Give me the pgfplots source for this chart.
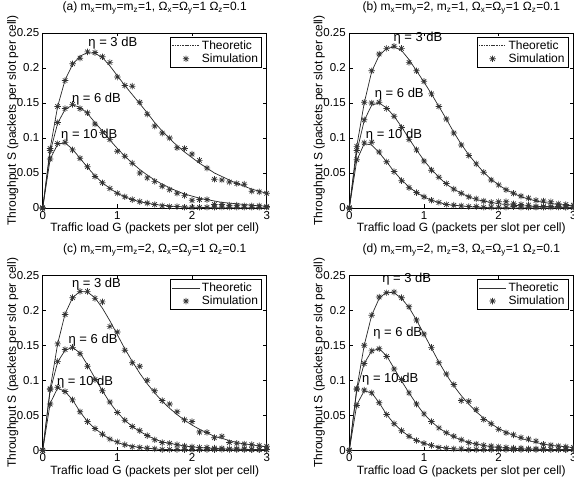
\documentclass[border=0pt]{standalone}
\usepackage{fontspec}
\setmainfont{Liberation Sans}
\usepackage{pgfplots}
\usepackage{pgfplotstable}
\usepgfplotslibrary{groupplots}
\pgfplotsset{compat=1.18}

% columns: G, theory/simulation for eta = 3, 6, 10 dB
\pgfplotstableread{
G   t3     s3     t6     s6     t10    s10
0.0 0      0      0      0      0      0
0.1 0.085  0.085  0.080  0.082  0.070  0.070
0.2 0.145  0.145  0.121  0.122  0.091  0.092
0.3 0.183  0.182  0.141  0.142  0.093  0.094
0.4 0.205  0.206  0.147  0.148  0.084  0.083
0.5 0.217  0.214  0.144  0.142  0.071  0.071
0.6 0.222  0.223  0.135  0.136  0.058  0.059
0.7 0.221  0.222  0.122  0.120  0.046  0.045
0.8 0.215  0.216  0.110  0.108  0.036  0.036
0.9 0.203  0.208  0.097  0.098  0.028  0.028
1.0 0.189  0.187  0.085  0.081  0.021  0.021
1.1 0.175  0.175  0.074  0.074  0.016  0.016
1.2 0.162  0.174  0.064  0.064  0.012  0.012
1.3 0.149  0.151  0.055  0.050  0.009  0.009
1.4 0.136  0.134  0.047  0.043  0.007  0.007
1.5 0.122  0.117  0.040  0.038  0.005  0.005
1.6 0.110  0.107  0.034  0.031  0.004  0.003
1.7 0.099  0.100  0.029  0.026  0.003  0.002
1.8 0.089  0.086  0.024  0.021  0.002  0.002
1.9 0.080  0.085  0.020  0.018  0.0015 0.001
2.0 0.072  0.077  0.017  0.011  0.001  0.001
2.1 0.064  0.068  0.014  0.012  0.001  0.001
2.2 0.057  0.057  0.012  0.012  0.0005 0.001
2.3 0.050  0.041  0.010  0.005  0      0.001
2.4 0.045  0.040  0.008  0.005  0      0.001
2.5 0.040  0.037  0.007  0.004  0      0.001
2.6 0.035  0.035  0.006  0.004  0      0.001
2.7 0.031  0.034  0.005  0.003  0      0.001
2.8 0.027  0.024  0.004  0.003  0      0.001
2.9 0.024  0.023  0.003  0.003  0      0.001
3.0 0.021  0.021  0.003  0.002  0      0.001
}\tabA

\pgfplotstableread{
G   t3     s3     t6     s6     t10    s10
0.0 0      0      0      0      0      0
0.1 0.088  0.088  0.080  0.082  0.068  0.069
0.2 0.150  0.151  0.125  0.126  0.092  0.093
0.3 0.195  0.196  0.147  0.150  0.090  0.094
0.4 0.218  0.220  0.150  0.151  0.079  0.080
0.5 0.228  0.228  0.143  0.142  0.066  0.066
0.6 0.230  0.231  0.131  0.131  0.052  0.052
0.7 0.225  0.228  0.116  0.115  0.040  0.039
0.8 0.212  0.208  0.099  0.098  0.030  0.029
0.9 0.196  0.196  0.083  0.083  0.022  0.022
1.0 0.180  0.181  0.068  0.067  0.016  0.016
1.1 0.163  0.163  0.055  0.054  0.011  0.011
1.2 0.145  0.145  0.044  0.044  0.008  0.008
1.3 0.127  0.127  0.034  0.035  0.005  0.005
1.4 0.108  0.107  0.027  0.027  0.004  0.004
1.5 0.091  0.090  0.021  0.021  0.003  0.003
1.6 0.076  0.075  0.016  0.016  0.002  0.002
1.7 0.063  0.063  0.012  0.013  0.001  0.002
1.8 0.051  0.051  0.010  0.010  0.001  0.001
1.9 0.041  0.040  0.008  0.008  0      0.001
2.0 0.033  0.033  0.006  0.009  0      0.001
2.1 0.026  0.026  0.005  0.009  0      0.001
2.2 0.021  0.021  0.004  0.006  0      0.002
2.3 0.016  0.017  0.003  0.005  0      0.001
2.4 0.013  0.014  0.003  0.004  0      0.001
2.5 0.010  0.011  0.002  0.002  0      0.001
2.6 0.008  0.010  0.002  0.002  0      0.001
2.7 0.0065 0.009  0.002  0.002  0      0.001
2.8 0.005  0.006  0.001  0.002  0      0.001
2.9 0.004  0.005  0.001  0.001  0      0.001
3.0 0.003  0.004  0.001  0.001  0      0.001
}\tabB

\pgfplotstableread{
G   t3     s3     t6     s6     t10    s10
0.0 0      0      0      0      0      0
0.1 0.088  0.088  0.085  0.087  0.067  0.066
0.2 0.152  0.152  0.126  0.127  0.089  0.090
0.3 0.195  0.194  0.143  0.144  0.084  0.084
0.4 0.218  0.218  0.147  0.147  0.072  0.072
0.5 0.227  0.227  0.139  0.138  0.055  0.055
0.6 0.226  0.227  0.122  0.120  0.041  0.041
0.7 0.218  0.217  0.103  0.101  0.031  0.031
0.8 0.203  0.212  0.085  0.085  0.023  0.023
0.9 0.185  0.177  0.068  0.069  0.016  0.016
1.0 0.165  0.169  0.054  0.054  0.011  0.012
1.1 0.145  0.143  0.043  0.043  0.008  0.008
1.2 0.127  0.125  0.034  0.034  0.006  0.005
1.3 0.110  0.120  0.027  0.028  0.004  0.004
1.4 0.095  0.100  0.021  0.021  0.003  0.003
1.5 0.082  0.085  0.016  0.015  0.002  0.002
1.6 0.070  0.071  0.012  0.011  0.001  0.001
1.7 0.060  0.066  0.010  0.010  0.001  0.001
1.8 0.051  0.055  0.008  0.008  0      0.001
1.9 0.043  0.0435 0.006  0.006  0      0.001
2.0 0.036  0.041  0.005  0.005  0      0.001
2.1 0.030  0.026  0.004  0.004  0      0.001
2.2 0.025  0.0255 0.003  0.004  0      0.001
2.3 0.020  0.018  0.003  0.003  0      0.001
2.4 0.017  0.020  0.002  0.003  0      0.001
2.5 0.014  0.011  0.002  0.002  0      0.001
2.6 0.011  0.010  0.002  0.002  0      0.001
2.7 0.009  0.009  0.001  0.002  0      0.001
2.8 0.008  0.008  0.001  0.001  0      0.001
2.9 0.006  0.0066 0.001  0.001  0      0.001
3.0 0.005  0.0057 0.001  0.001  0      0.001
}\tabC

\pgfplotstableread{
G   t3     s3     t6     s6     t10    s10
0.0 0      0      0      0      0      0
0.1 0.088  0.088  0.086  0.087  0.065  0.064
0.2 0.150  0.150  0.124  0.124  0.085  0.086
0.3 0.193  0.193  0.142  0.142  0.082  0.082
0.4 0.217  0.219  0.145  0.145  0.068  0.068
0.5 0.226  0.225  0.135  0.134  0.051  0.051
0.6 0.225  0.226  0.117  0.116  0.038  0.038
0.7 0.217  0.218  0.099  0.101  0.028  0.028
0.8 0.204  0.205  0.082  0.082  0.020  0.020
0.9 0.186  0.186  0.066  0.066  0.014  0.014
1.0 0.166  0.166  0.052  0.052  0.010  0.010
1.1 0.146  0.147  0.041  0.041  0.007  0.007
1.2 0.126  0.125  0.032  0.032  0.005  0.004
1.3 0.108  0.109  0.025  0.025  0.003  0.003
1.4 0.092  0.094  0.019  0.020  0.002  0.002
1.5 0.078  0.071  0.015  0.015  0.0015 0.002
1.6 0.066  0.070  0.011  0.011  0.001  0.001
1.7 0.055  0.058  0.009  0.009  0.001  0.001
1.8 0.046  0.044  0.007  0.007  0      0.001
1.9 0.038  0.038  0.005  0.006  0      0.001
2.0 0.031  0.030  0.004  0.005  0      0.001
2.1 0.026  0.025  0.003  0.004  0      0.001
2.2 0.021  0.022  0.003  0.003  0      0.001
2.3 0.017  0.018  0.002  0.003  0      0.001
2.4 0.014  0.016  0.002  0.002  0      0.001
2.5 0.011  0.013  0.002  0.002  0      0.001
2.6 0.009  0.0086 0.001  0.002  0      0.001
2.7 0.007  0.0076 0.001  0.001  0      0.001
2.8 0.006  0.006  0.001  0.001  0      0.001
2.9 0.005  0.005  0.001  0.001  0      0.001
3.0 0.004  0.004  0.001  0.001  0      0.001
}\tabD

% MATLAB-like eight-armed asterisk
\pgfdeclareplotmark{mstar}{%
  \pgfpathmoveto{\pgfqpoint{-\pgfplotmarksize}{0pt}}%
  \pgfpathlineto{\pgfqpoint{\pgfplotmarksize}{0pt}}%
  \pgfpathmoveto{\pgfqpoint{0pt}{-\pgfplotmarksize}}%
  \pgfpathlineto{\pgfqpoint{0pt}{\pgfplotmarksize}}%
  \pgfpathmoveto{\pgfqpoint{-0.707\pgfplotmarksize}{-0.707\pgfplotmarksize}}%
  \pgfpathlineto{\pgfqpoint{0.707\pgfplotmarksize}{0.707\pgfplotmarksize}}%
  \pgfpathmoveto{\pgfqpoint{-0.707\pgfplotmarksize}{0.707\pgfplotmarksize}}%
  \pgfpathlineto{\pgfqpoint{0.707\pgfplotmarksize}{-0.707\pgfplotmarksize}}%
  \pgfusepathqstroke}

\pgfplotsset{
  theo/.style={black!85,line width=0.7pt,forget plot},
  simu/.style={only marks,mark=mstar,mark size=3.2pt,black!80,line width=0.7pt,forget plot},
}
\newcommand{\curves}[1]{%
  \addplot[theo] table[x=G,y=t3] {#1};
  \addplot[theo] table[x=G,y=t6] {#1};
  \addplot[theo] table[x=G,y=t10] {#1};
  \addplot[simu] table[x=G,y=s3] {#1};
  \addplot[simu] table[x=G,y=s6] {#1};
  \addplot[simu] table[x=G,y=s10] {#1};
}
\newcommand{\lbl}[3]{\node[anchor=west,font=\fontsize{13}{15}\selectfont,inner sep=0pt] at (axis cs:#1,#2) {#3};}

\begin{document}
\begin{tikzpicture}
\begin{groupplot}[
  group style={group size=2 by 2,horizontal sep=82.6pt,vertical sep=67.3pt},
  width=224pt,height=175pt,scale only axis,
  xmin=0,xmax=3,ymin=0,ymax=0.25,
  xtick={0,1,2,3},
  ytick={0,0.05,0.1,0.15,0.2,0.25},
  yticklabels={0,0.05,0.1,0.15,0.2,0.25},
  clip=false,
  /pgf/number format/assume math mode=true,
  tick label style={font=\fontsize{11.5}{13}\selectfont},
  label style={font=\fontsize{12}{14}\selectfont},
  title style={font=\fontsize{12}{14}\selectfont,at={(axis description cs:0.5,1.109)},anchor=center},
  xlabel={Traffic load G (packets per slot per cell)},
  ylabel={Throughput S (packets per slot per cell)},
  xlabel style={at={(axis description cs:0.5,-0.118)},anchor=center},
  ylabel style={at={(axis description cs:-0.134,0.5)},anchor=center},
  axis line style={black,line width=0.6pt},
  major tick style={black,line width=0.5pt},
  major tick length=3.5pt,
  legend style={at={(axis description cs:0.978,0.979)},anchor=north east,
    font=\fontsize{12}{14}\selectfont,draw=black,line width=0.6pt,
    inner sep=1.5pt,row sep=-1pt,cells={anchor=west}},
  legend image code/.code={\draw[mark repeat=2,mark phase=2,#1] plot coordinates {(0cm,0cm) (0.48cm,0cm) (0.96cm,0cm)};},
]
\nextgroupplot[title={(a) m\textsubscript{x}=m\textsubscript{y}=m\textsubscript{z}=1, Ω\textsubscript{x}=Ω\textsubscript{y}=1 Ω\textsubscript{z}=0.1}]
\coordinate (O) at (rel axis cs:0,1);
\addlegendimage{black!80,line width=0.6pt,dash pattern=on 1.5pt off 1pt}
\addlegendimage{only marks,mark=mstar,mark size=3.2pt,black!80,line width=0.7pt}
\legend{Theoretic,Simulation}
\curves{\tabA}
\lbl{0.61}{0.235}{η = 3 dB}
\lbl{0.39}{0.1556}{η = 6 dB}
\lbl{0.245}{0.1034}{η = 10 dB}

\nextgroupplot[title={(b) m\textsubscript{x}=m\textsubscript{y}=2, m\textsubscript{z}=1, Ω\textsubscript{x}=Ω\textsubscript{y}=1 Ω\textsubscript{z}=0.1}]
\addlegendimage{black!80,line width=0.6pt,dash pattern=on 1.5pt off 1pt}
\addlegendimage{only marks,mark=mstar,mark size=3.2pt,black!80,line width=0.7pt}
\legend{Theoretic,Simulation}
\curves{\tabB}
\lbl{0.59}{0.2424}{η = 3 dB}
\lbl{0.34}{0.162}{η = 6 dB}
\lbl{0.22}{0.1044}{η = 10 dB}

\nextgroupplot[title={(c) m\textsubscript{x}=m\textsubscript{y}=m\textsubscript{z}=2, Ω\textsubscript{x}=Ω\textsubscript{y}=1 Ω\textsubscript{z}=0.1}]
\addlegendimage{black!80,line width=0.6pt}
\addlegendimage{only marks,mark=mstar,mark size=3.2pt,black!80,line width=0.7pt}
\legend{Theoretic,Simulation}
\curves{\tabC}
\lbl{0.39}{0.237}{η = 3 dB}
\lbl{0.345}{0.158}{η = 6 dB}
\lbl{0.19}{0.0978}{η = 10 dB}

\nextgroupplot[title={(d) m\textsubscript{x}=m\textsubscript{y}=2, m\textsubscript{z}=3, Ω\textsubscript{x}=Ω\textsubscript{y}=1 Ω\textsubscript{z}=0.1}]
\addlegendimage{black!80,line width=0.6pt}
\addlegendimage{only marks,mark=mstar,mark size=3.2pt,black!80,line width=0.7pt}
\legend{Theoretic,Simulation}
\curves{\tabD}
\lbl{0.44}{0.244}{η = 3 dB}
\lbl{0.32}{0.1676}{η = 6 dB}
\lbl{0.17}{0.102}{η = 10 dB}
\end{groupplot}
\pgfresetboundingbox
\path[use as bounding box] (O) ++(-42.7pt,33pt) rectangle ++(574pt,-479pt);
\end{tikzpicture}
\end{document}
